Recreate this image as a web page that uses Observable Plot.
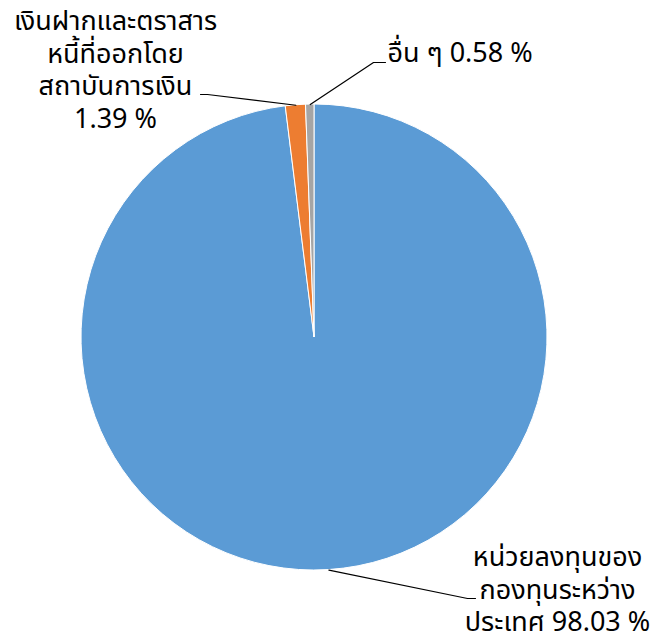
<!DOCTYPE html>
<html><head><meta charset="utf-8">
<script src="https://cdn.jsdelivr.net/npm/d3@7"></script>
<script src="https://cdn.jsdelivr.net/npm/@observablehq/plot@0.6"></script>
<style>body{margin:0;background:#fff;}</style>
</head><body><div id="chart"></div>
<script>
// ---- data ----
const categories = ["หน่วยลงทุนของกองทุนระหว่างประเทศ", "เงินฝากและตราสารหนี้ที่ออกโดยสถาบันการเงิน", "อื่น ๆ"];
const shares = [98.03, 1.39, 0.58];
const labelHeads = ["หน่วยลงทุนของ\nกองทุนระหว่าง\nประเทศ ", "เงินฝากและตราสาร\nหนี้ที่ออกโดย\nสถาบันการเงิน\n", "อื่น ๆ "];
const colors = ["#5B9BD5", "#ED7D31", "#A5A5A5"];

// ---- layout ----
const W = 658, H = 636;
const cx = 314, cy = 337, R = 233;
const labelLayout = [
  {tx: 557, ty: 588, anchor: "middle", elbow: [467, 598], end: [475, 598]},
  {tx: 115, ty: 68, anchor: "middle", elbow: [207, 94], end: [200, 94]},
  {tx: 387, ty: 51, anchor: "start", elbow: [373, 62], end: [385, 62]}
];
const FONT = "Tahoma, 'Noto Sans Thai', 'Noto Sans', 'DejaVu Sans', sans-serif";
const FS = 27;

const data = categories.map((c, i) => ({category: c, value: shares[i], label: labelHeads[i] + shares[i].toFixed(2) + " %"}));
const arcs = d3.pie().sort(null).value(d => d.value)(data);
const color = d3.scaleOrdinal(categories, colors);

const edge = a => [cx + R * Math.sin(a), cy - R * Math.cos(a)];
const leaders = arcs.flatMap((a, i) => {
  const mid = (a.startAngle + a.endAngle) / 2;
  const p = edge(mid);
  const L = labelLayout[i];
  return [
    {k: i, x: p[0], y: p[1]},
    {k: i, x: L.elbow[0], y: L.elbow[1]},
    {k: i, x: L.end[0], y: L.end[1]}
  ];
});
const labels = data.map((d, i) => ({...d, x: labelLayout[i].tx, y: labelLayout[i].ty, anchor: labelLayout[i].anchor}));

function pieMark(index, scales) {
  const g = d3.create("svg:g")
    .attr("transform", `translate(${scales.x(cx)},${scales.y(cy)})`);
  const arc = d3.arc().innerRadius(0).outerRadius(R);
  g.selectAll("path").data(arcs).join("path")
    .attr("d", arc)
    .attr("fill", d => color(d.data.category))
    .attr("stroke", "#fff")
    .attr("stroke-width", 1)
    .attr("stroke-linejoin", "round");
  return g.node();
}

const chart = Plot.plot({
  width: W, height: H, margin: 0,
  x: {domain: [0, W], range: [0, W], axis: null},
  y: {domain: [0, H], range: [0, H], axis: null},
  style: {fontFamily: FONT, background: "#fff"},
  marks: [
    pieMark,
    Plot.line(leaders, {x: "x", y: "y", z: "k", stroke: "#000", strokeWidth: 1.2, curve: "linear"}),
    Plot.text(labels.filter(d => d.anchor === "middle"), {x: "x", y: "y", text: "label", textAnchor: "middle", lineAnchor: "middle", lineHeight: 32.5 / FS, fontSize: FS, fill: "#000"}),
    Plot.text(labels.filter(d => d.anchor === "start"), {x: "x", y: "y", text: "label", textAnchor: "start", lineAnchor: "middle", lineHeight: 32.5 / FS, fontSize: FS, fill: "#000"})
  ]
});
document.getElementById("chart").append(chart);
</script>
</body></html>
